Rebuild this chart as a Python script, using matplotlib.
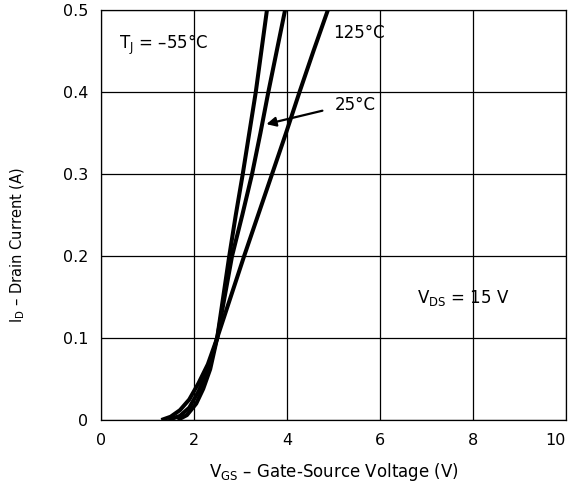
import matplotlib
matplotlib.use("Agg")
import matplotlib.pyplot as plt
import numpy as np

plt.rcParams['font.family'] = ['DejaVu Sans']
plt.rcParams['mathtext.fontset'] = 'custom'
plt.rcParams['mathtext.rm'] = 'DejaVu Sans'
plt.rcParams['mathtext.it'] = 'DejaVu Sans'
plt.rcParams['mathtext.bf'] = 'DejaVu Sans'
plt.rcParams['mathtext.default'] = 'regular'

# Data
v_125 = [1.3, 1.5, 1.7, 1.9, 2.1, 2.3, 2.5, 2.79, 3.08, 3.38, 3.68, 3.98, 4.27, 4.57, 4.88]
i_125 = [0, 0.004, 0.012, 0.025, 0.045, 0.068, 0.1, 0.15, 0.2, 0.25, 0.3, 0.35, 0.4, 0.45, 0.5]
v_25 = [1.45, 1.7, 1.9, 2.1, 2.3, 2.5, 2.66, 2.82, 3.04, 3.25, 3.43, 3.6, 3.78, 3.96]
i_25 = [0, 0.005, 0.015, 0.035, 0.06, 0.1, 0.15, 0.2, 0.25, 0.3, 0.35, 0.4, 0.45, 0.5]
v_m55 = [1.65, 1.85, 2.05, 2.2, 2.35, 2.5, 2.63, 2.76, 2.9, 3.05, 3.19, 3.33, 3.45, 3.57]
i_m55 = [0, 0.006, 0.02, 0.038, 0.062, 0.1, 0.15, 0.2, 0.25, 0.3, 0.35, 0.4, 0.45, 0.5]

x_ticks = [0, 2, 4, 6, 8, 10]
x_ticklabels = ['0', '2', '4', '6', '8', '10']
y_ticks = [0, 0.1, 0.2, 0.3, 0.4, 0.5]
y_ticklabels = ['0', '0.1', '0.2', '0.3', '0.4', '0.5']

fig = plt.figure(figsize=(5.73, 4.95), dpi=100)
ax = fig.add_axes([0.176, 0.1515, 0.812, 0.8283])

for v, i in [(v_125, i_125), (v_25, i_25), (v_m55, i_m55)]:
    ax.plot(v, i, color='black', lw=2.9, solid_capstyle='butt', solid_joinstyle='round')

ax.set_xlim(0, 10)
ax.set_ylim(0, 0.5)
ax.set_xticks(x_ticks)
ax.set_xticklabels(x_ticklabels)
ax.set_yticks(y_ticks)
ax.set_yticklabels(y_ticklabels)
ax.grid(True, color='black', lw=0.9)
ax.set_axisbelow(True)
ax.tick_params(length=0, labelsize=11.5, pad=9)
ax.tick_params(axis='x', pad=9)
ax.get_xticklabels()[-1].set_horizontalalignment('right')
for s in ax.spines.values():
    s.set_linewidth(0.9)
    s.set_color('black')

ax.set_xlabel('V$_{GS}$ – Gate-Source Voltage (V)', fontsize=12, labelpad=10)
ax.set_ylabel('I$_{D}$ – Drain Current (A)', fontsize=10.5)
ax.yaxis.set_label_coords(-0.158, 0.427)

ax.text(0.38, 0.457, 'T$_{J}$ = –55°C', fontsize=12, va='center', ha='left')
ax.text(5.0, 0.472, '125°C', fontsize=12, va='center', ha='left')
ax.text(5.03, 0.384, '25°C', fontsize=12, va='center', ha='left')
ax.text(6.8, 0.149, 'V$_{DS}$ = 15 V', fontsize=12, va='center', ha='left')
ax.annotate('', xy=(3.5, 0.36), xytext=(4.82, 0.378),
            arrowprops=dict(arrowstyle='-|>', color='black', lw=1.6, mutation_scale=14))

fig.savefig('out.png', dpi=100)
